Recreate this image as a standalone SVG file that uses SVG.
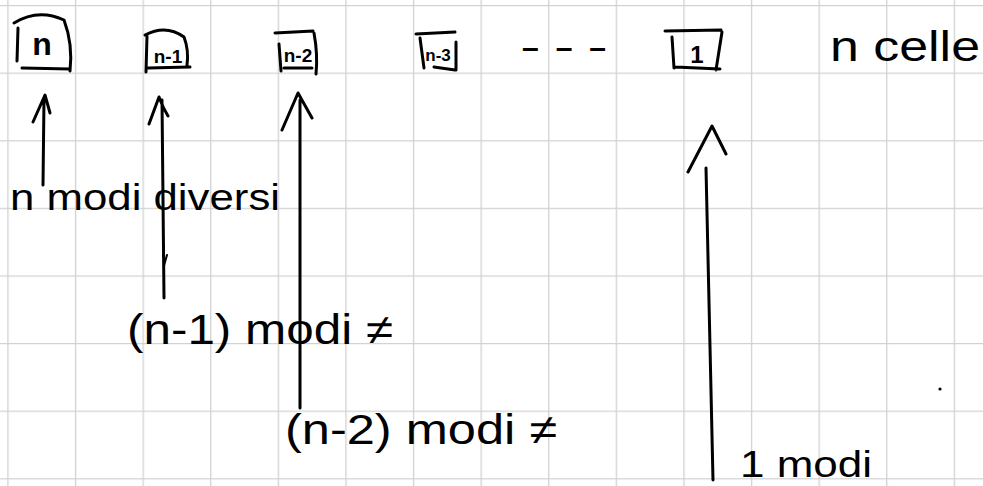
<svg xmlns="http://www.w3.org/2000/svg" width="983" height="486" viewBox="0 0 983 486">
  <defs>
    <pattern id="grid" x="7.3" y="5" width="67.6" height="67.6" patternUnits="userSpaceOnUse">
      <path d="M0 0 H67.6 M0 0 V67.6" fill="none" stroke="#d2d2d2" stroke-width="2.6"/>
    </pattern>
    <style>
      .ink { fill: none; stroke: #000; stroke-width: 3; stroke-linecap: round; stroke-linejoin: round; }
      .thin { fill: none; stroke: #000; stroke-width: 2; stroke-linecap: round; }
      .hand { font-family: "Liberation Sans", "DejaVu Sans", sans-serif; fill: #000; }
      .box-label { font-family: "Liberation Sans", "DejaVu Sans", sans-serif; font-weight: bold; fill: #000; text-anchor: middle; }
    </style>
  </defs>
  <rect width="983" height="486" fill="#fff"/>
  <rect width="983" height="486" fill="url(#grid)"/>

  <g id="node-n">
    <path class="ink" d="M14 23 Q38 8 64 20 Q73 44 70 71 M18 28 L17 61 M22 68 L70 69"/>
    <text class="box-label" x="42" y="55" font-size="32" font-weight="normal">n</text>
  </g>
  <g id="node-n-1">
    <path class="ink" d="M145 35 Q166 24 184 37 Q189 50 187 65 M147 36 L146 72 M148 68 L190 67"/>
    <text class="box-label" x="168" y="63" font-size="19">n-1</text>
  </g>
  <g id="node-n-2">
    <path class="ink" d="M275 33 L313 31 M314 33 Q318 55 316 74 M279 44 L281 71 M284 68 L312 68"/>
    <text class="box-label" x="298" y="62" font-size="19">n-2</text>
  </g>
  <g id="node-n-3">
    <path class="ink" d="M416 34 L455 32 M456 42 L456 70 M420 38 L424 68 M434 67 L455 70"/>
    <text class="box-label" x="438" y="61" font-size="17">n-3</text>
  </g>
  <g id="ellipsis">
    <text class="hand" x="522" y="58" font-size="30" font-weight="bold" textLength="84" lengthAdjust="spacing">– – –</text>
  </g>
  <g id="node-1">
    <path class="ink" d="M665 31 L721 30 M722 32 L716 70 M672 37 L674 68 M675 67 L720 69"/>
    <text class="box-label" x="697" y="63" font-size="24" font-weight="normal">1</text>
  </g>
  <g id="title">
    <text class="hand" x="830" y="61" font-size="42" textLength="150" lengthAdjust="spacingAndGlyphs">n celle</text>
  </g>

  <g id="connectors">
    <path class="ink" d="M43 185 L44 98 M33 122 L45 95 L50 113"/>
    <path class="ink" d="M164 298 L162 100 M149 124 L159 97 Q163 108 168 116"/>
    <path class="thin" d="M163 255 L165 262 L167 255"/>
    <path class="ink" d="M300 408 L300 100 M282 130 L298 93 L312 118"/>
    <path class="ink" d="M713 480 L706 168 M688 172 L712 126 L726 154"/>
  </g>

  <g id="labels">
    <text class="hand" x="10" y="210" font-size="36" textLength="270" lengthAdjust="spacingAndGlyphs">n modi diversi</text>
    <text class="hand" x="127" y="344" font-size="42" textLength="266" lengthAdjust="spacingAndGlyphs">(n-1) modi ≠</text>
    <text class="hand" x="285" y="444" font-size="42" textLength="272" lengthAdjust="spacingAndGlyphs">(n-2) modi ≠</text>
    <text class="hand" x="740" y="477" font-size="36" textLength="132" lengthAdjust="spacingAndGlyphs">1 modi</text>
  </g>
  <circle cx="940" cy="389" r="1.6" fill="#000"/>
</svg>
